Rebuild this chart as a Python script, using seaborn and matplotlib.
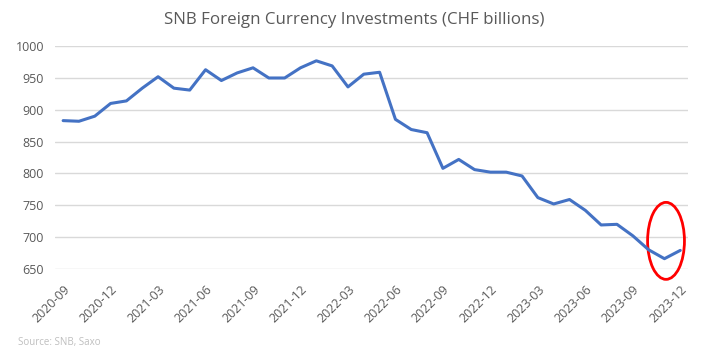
import matplotlib
matplotlib.use("Agg")
import matplotlib.pyplot as plt
from matplotlib.patches import Ellipse
from matplotlib.transforms import ScaledTranslation
import seaborn as sns
import pandas as pd

months = pd.date_range("2020-09-01", "2023-12-01", freq="MS").strftime("%Y-%m").tolist()
values = [883, 882, 890, 910, 914, 934, 952, 934, 931, 963,
          946, 958, 966, 950, 950, 966, 977, 969, 936, 956,
          959, 885, 869, 864, 808, 822, 806, 802, 802, 796,
          762, 752, 759, 742, 719, 720, 702, 680, 666, 679]
yticks = [650, 700, 750, 800, 850, 900, 950, 1000]
title = "SNB Foreign Currency Investments (CHF billions)"
source = "Source: SNB, Saxo"

df = pd.DataFrame({"month": months, "value": values})
df["idx"] = range(len(df))

sns.set_theme(style="white")
plt.rcParams["font.family"] = ["Open Sans", "DejaVu Sans"]

fig = plt.figure(figsize=(7.08, 3.58), dpi=100)
ax = fig.add_axes([0.078, 0.249, 0.894, 0.622])

sns.lineplot(data=df, x="idx", y="value", ax=ax, color="#4472C4", linewidth=2.2)

ax.set_ylim(650, 1000)
ax.set_yticks(yticks)
ax.set_xlim(-0.5, len(df) - 0.5)
tick_pos = list(range(0, len(df), 3))
ax.set_xticks(tick_pos)
ax.set_xticklabels([months[i] for i in tick_pos], rotation=45, ha="right", va="top",
                   rotation_mode="anchor", color="#595959", fontsize=9)
offset = ScaledTranslation(3 / 100, 0, fig.dpi_scale_trans)
for lbl in ax.get_xticklabels():
    lbl.set_transform(lbl.get_transform() + offset)
ax.tick_params(axis="y", labelcolor="#595959", labelsize=9, length=0, pad=8)
ax.tick_params(axis="x", length=0, pad=10)
ax.set_xlabel("")
ax.set_ylabel("")
ax.grid(axis="y", color="#D9D9D9", linewidth=1)
ax.set_axisbelow(True)
for s in ax.spines.values():
    s.set_visible(False)

ell = Ellipse((38.1, 694), width=2.33, height=121, fill=False,
              edgecolor="#FF0000", linewidth=2, clip_on=False)
ax.add_patch(ell)

fig.text(0.5, 0.944, title, ha="center", va="center", fontsize=12.2, color="#595959")
fig.text(0.025, 0.042, source, ha="left", va="center", fontsize=7, color="#BFBFBF")

fig.savefig("out.png", dpi=100)
